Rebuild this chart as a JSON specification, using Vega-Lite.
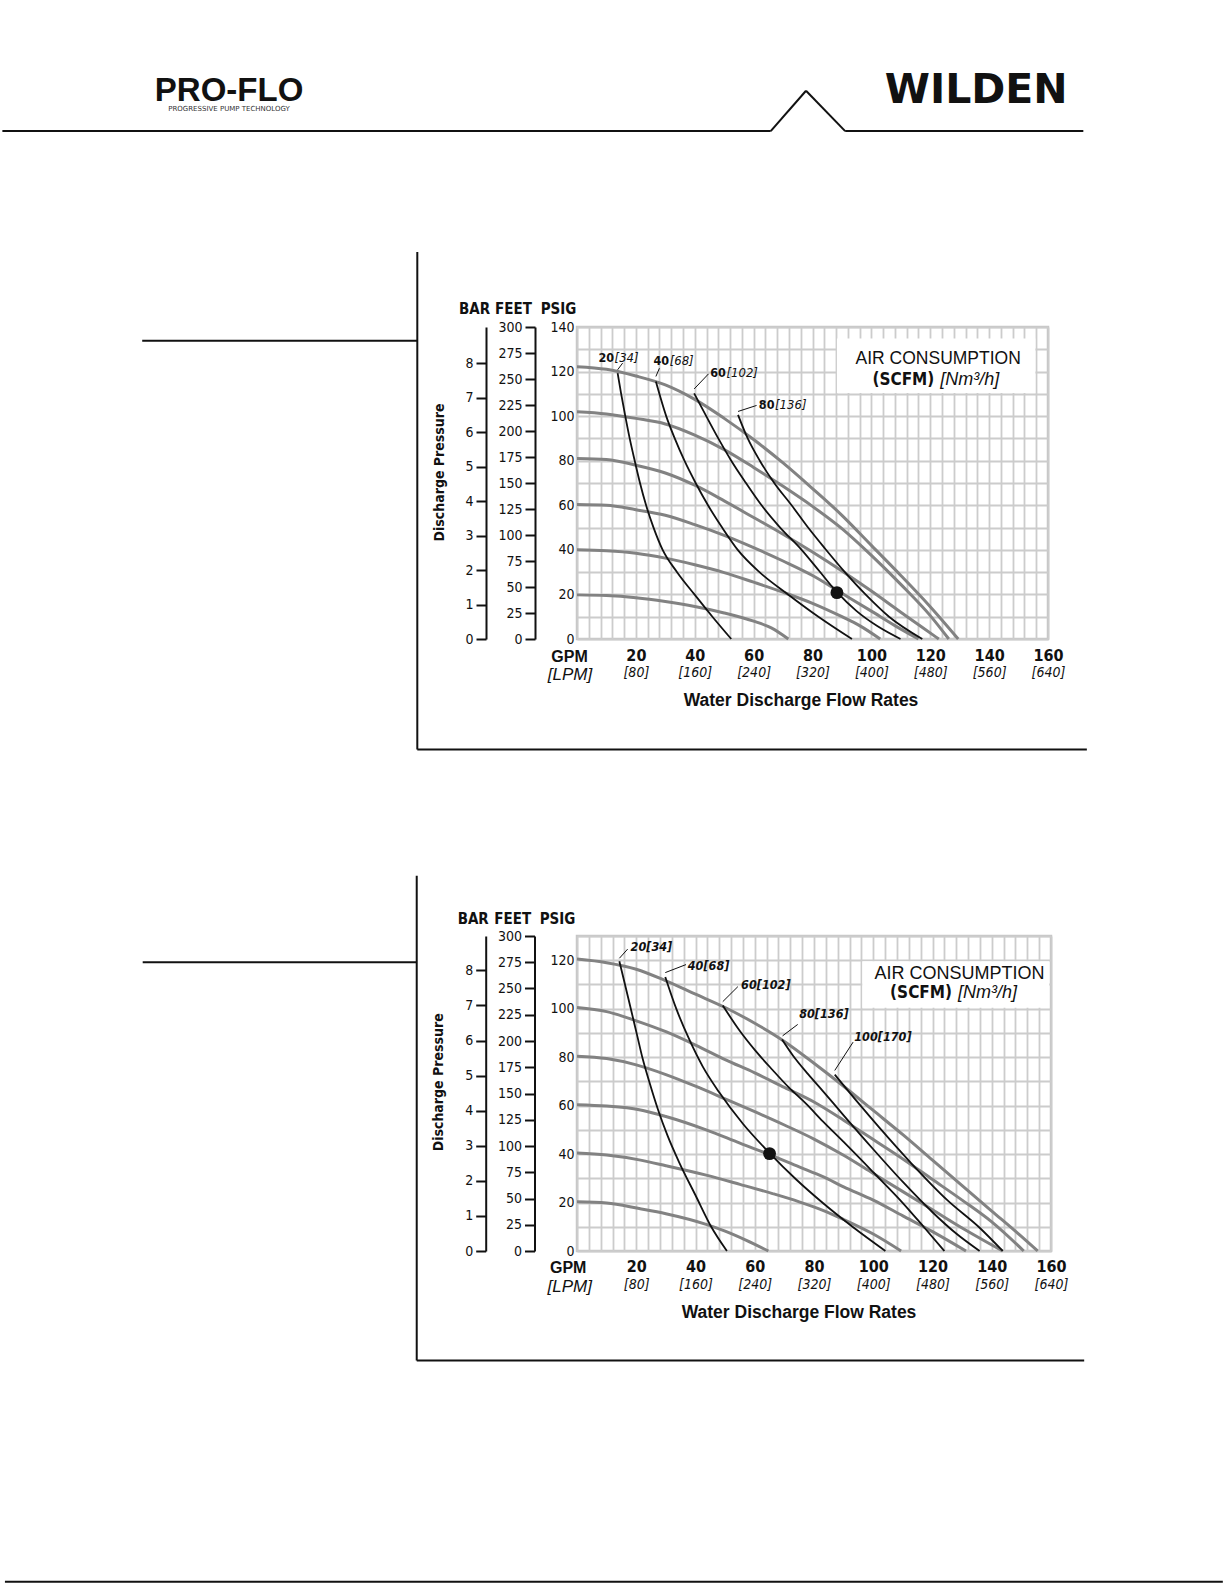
{
  "$schema": "https://vega.github.io/schema/vega-lite/v6.json",
  "padding": {"top": 68, "left": 0, "right": 0, "bottom": 0},
  "background": "white",
  "spacing": 121,
  "config": {
    "font": "Liberation Sans Narrow, Arial Narrow, DejaVu Sans Condensed, Liberation Sans, sans-serif",
    "view": {"stroke": "#c6c6c6", "strokeWidth": 2.5},
    "axis": {"labelColor": "#111111", "titleColor": "#111111", "labelFont": "Liberation Sans Narrow, Arial Narrow, DejaVu Sans Condensed, Liberation Sans, sans-serif", "titleFont": "Liberation Sans Narrow, Arial Narrow, DejaVu Sans Condensed, Liberation Sans, sans-serif"}
  },
  "datasets": {
    "one": [{"v": 0}],
    "curves1": [
      {"s":"p120","k":"inlet","gpm":0,"psi":122.2},{"s":"p120","k":"inlet","gpm":10,"psi":121},{"s":"p120","k":"inlet","gpm":20,"psi":118},{"s":"p120","k":"inlet","gpm":30,"psi":114},{"s":"p120","k":"inlet","gpm":40,"psi":107.5},{"s":"p120","k":"inlet","gpm":50,"psi":99},{"s":"p120","k":"inlet","gpm":60,"psi":89.5},{"s":"p120","k":"inlet","gpm":70,"psi":79},{"s":"p120","k":"inlet","gpm":80,"psi":67.5},{"s":"p120","k":"inlet","gpm":90,"psi":55.5},{"s":"p120","k":"inlet","gpm":100,"psi":42},{"s":"p120","k":"inlet","gpm":110,"psi":28.5},{"s":"p120","k":"inlet","gpm":120,"psi":14.5},{"s":"p120","k":"inlet","gpm":129.5,"psi":0},
      {"s":"p100","k":"inlet","gpm":0,"psi":102},{"s":"p100","k":"inlet","gpm":10,"psi":101},{"s":"p100","k":"inlet","gpm":20,"psi":99},{"s":"p100","k":"inlet","gpm":30,"psi":96.5},{"s":"p100","k":"inlet","gpm":40,"psi":91.5},{"s":"p100","k":"inlet","gpm":50,"psi":85},{"s":"p100","k":"inlet","gpm":60,"psi":77},{"s":"p100","k":"inlet","gpm":70,"psi":68.5},{"s":"p100","k":"inlet","gpm":80,"psi":59.5},{"s":"p100","k":"inlet","gpm":90,"psi":49.5},{"s":"p100","k":"inlet","gpm":100,"psi":37.5},{"s":"p100","k":"inlet","gpm":110,"psi":24.5},{"s":"p100","k":"inlet","gpm":120,"psi":10.5},{"s":"p100","k":"inlet","gpm":126.3,"psi":0},
      {"s":"p80","k":"inlet","gpm":0,"psi":81},{"s":"p80","k":"inlet","gpm":10,"psi":80.5},{"s":"p80","k":"inlet","gpm":20,"psi":78},{"s":"p80","k":"inlet","gpm":30,"psi":74.5},{"s":"p80","k":"inlet","gpm":40,"psi":69},{"s":"p80","k":"inlet","gpm":50,"psi":62},{"s":"p80","k":"inlet","gpm":60,"psi":54.5},{"s":"p80","k":"inlet","gpm":70,"psi":47},{"s":"p80","k":"inlet","gpm":80,"psi":39},{"s":"p80","k":"inlet","gpm":90,"psi":30.5},{"s":"p80","k":"inlet","gpm":100,"psi":21.5},{"s":"p80","k":"inlet","gpm":110,"psi":12},{"s":"p80","k":"inlet","gpm":117,"psi":5.5},{"s":"p80","k":"inlet","gpm":122.9,"psi":0},
      {"s":"p60","k":"inlet","gpm":0,"psi":60.3},{"s":"p60","k":"inlet","gpm":10,"psi":60},{"s":"p60","k":"inlet","gpm":20,"psi":58},{"s":"p60","k":"inlet","gpm":30,"psi":55.5},{"s":"p60","k":"inlet","gpm":40,"psi":51.3},{"s":"p60","k":"inlet","gpm":50,"psi":46.5},{"s":"p60","k":"inlet","gpm":60,"psi":41},{"s":"p60","k":"inlet","gpm":70,"psi":35},{"s":"p60","k":"inlet","gpm":80,"psi":28.5},{"s":"p60","k":"inlet","gpm":90,"psi":20.5},{"s":"p60","k":"inlet","gpm":100,"psi":12.5},{"s":"p60","k":"inlet","gpm":108,"psi":6},{"s":"p60","k":"inlet","gpm":116,"psi":0},
      {"s":"p40","k":"inlet","gpm":0,"psi":40},{"s":"p40","k":"inlet","gpm":10,"psi":39.6},{"s":"p40","k":"inlet","gpm":20,"psi":38.5},{"s":"p40","k":"inlet","gpm":30,"psi":36.3},{"s":"p40","k":"inlet","gpm":40,"psi":33.3},{"s":"p40","k":"inlet","gpm":50,"psi":29.8},{"s":"p40","k":"inlet","gpm":60,"psi":25.5},{"s":"p40","k":"inlet","gpm":70,"psi":21},{"s":"p40","k":"inlet","gpm":80,"psi":16},{"s":"p40","k":"inlet","gpm":90,"psi":10},{"s":"p40","k":"inlet","gpm":96,"psi":6},{"s":"p40","k":"inlet","gpm":103,"psi":0},
      {"s":"p20","k":"inlet","gpm":0,"psi":19.8},{"s":"p20","k":"inlet","gpm":10,"psi":19.5},{"s":"p20","k":"inlet","gpm":20,"psi":18.5},{"s":"p20","k":"inlet","gpm":30,"psi":16.8},{"s":"p20","k":"inlet","gpm":40,"psi":14.6},{"s":"p20","k":"inlet","gpm":50,"psi":11.7},{"s":"p20","k":"inlet","gpm":60,"psi":8},{"s":"p20","k":"inlet","gpm":66,"psi":5},{"s":"p20","k":"inlet","gpm":71.8,"psi":0},
      {"s":"a20","k":"air","gpm":13.8,"psi":119.3},{"s":"a20","k":"air","gpm":15,"psi":110},{"s":"a20","k":"air","gpm":16.4,"psi":100},{"s":"a20","k":"air","gpm":17.9,"psi":90},{"s":"a20","k":"air","gpm":19.6,"psi":80},{"s":"a20","k":"air","gpm":21.4,"psi":70},{"s":"a20","k":"air","gpm":23.4,"psi":60.3},{"s":"a20","k":"air","gpm":26,"psi":50},{"s":"a20","k":"air","gpm":29.1,"psi":40},{"s":"a20","k":"air","gpm":34,"psi":30},{"s":"a20","k":"air","gpm":39.9,"psi":20},{"s":"a20","k":"air","gpm":46,"psi":10},{"s":"a20","k":"air","gpm":52.4,"psi":0},
      {"s":"a40","k":"air","gpm":26.8,"psi":115.5},{"s":"a40","k":"air","gpm":30.3,"psi":100},{"s":"a40","k":"air","gpm":33.2,"psi":90},{"s":"a40","k":"air","gpm":36.5,"psi":80},{"s":"a40","k":"air","gpm":40.3,"psi":70},{"s":"a40","k":"air","gpm":44.5,"psi":60},{"s":"a40","k":"air","gpm":49.3,"psi":50},{"s":"a40","k":"air","gpm":54.6,"psi":40},{"s":"a40","k":"air","gpm":62,"psi":30},{"s":"a40","k":"air","gpm":71.7,"psi":20},{"s":"a40","k":"air","gpm":82,"psi":10},{"s":"a40","k":"air","gpm":93.4,"psi":0},
      {"s":"a60","k":"air","gpm":39.8,"psi":110.2},{"s":"a60","k":"air","gpm":43.9,"psi":100},{"s":"a60","k":"air","gpm":48,"psi":90},{"s":"a60","k":"air","gpm":52.4,"psi":80},{"s":"a60","k":"air","gpm":57.4,"psi":70},{"s":"a60","k":"air","gpm":62.7,"psi":60},{"s":"a60","k":"air","gpm":69,"psi":50},{"s":"a60","k":"air","gpm":76.3,"psi":40},{"s":"a60","k":"air","gpm":82.3,"psi":30.5},{"s":"a60","k":"air","gpm":88.3,"psi":21},{"s":"a60","k":"air","gpm":95,"psi":12.5},{"s":"a60","k":"air","gpm":102,"psi":5.8},{"s":"a60","k":"air","gpm":109.9,"psi":0},
      {"s":"a80","k":"air","gpm":54.7,"psi":100.6},{"s":"a80","k":"air","gpm":58,"psi":90},{"s":"a80","k":"air","gpm":62.1,"psi":80},{"s":"a80","k":"air","gpm":67,"psi":70},{"s":"a80","k":"air","gpm":72.9,"psi":60},{"s":"a80","k":"air","gpm":78.5,"psi":50},{"s":"a80","k":"air","gpm":84.3,"psi":40.5},{"s":"a80","k":"air","gpm":91,"psi":30},{"s":"a80","k":"air","gpm":98,"psi":20},{"s":"a80","k":"air","gpm":106,"psi":10},{"s":"a80","k":"air","gpm":117.3,"psi":0}
    ],
    "curves2": [
      {"s":"p120","k":"inlet","gpm":0,"psi":120.5},{"s":"p120","k":"inlet","gpm":10,"psi":119},{"s":"p120","k":"inlet","gpm":20,"psi":116.3},{"s":"p120","k":"inlet","gpm":30,"psi":111.5},{"s":"p120","k":"inlet","gpm":40,"psi":106},{"s":"p120","k":"inlet","gpm":50,"psi":100.5},{"s":"p120","k":"inlet","gpm":60,"psi":94},{"s":"p120","k":"inlet","gpm":70,"psi":86.5},{"s":"p120","k":"inlet","gpm":80,"psi":77.5},{"s":"p120","k":"inlet","gpm":90,"psi":68},{"s":"p120","k":"inlet","gpm":100,"psi":58},{"s":"p120","k":"inlet","gpm":110,"psi":48},{"s":"p120","k":"inlet","gpm":120,"psi":37.5},{"s":"p120","k":"inlet","gpm":130,"psi":27},{"s":"p120","k":"inlet","gpm":140,"psi":16.5},{"s":"p120","k":"inlet","gpm":150,"psi":6},{"s":"p120","k":"inlet","gpm":155.5,"psi":0},
      {"s":"p100","k":"inlet","gpm":0,"psi":100.5},{"s":"p100","k":"inlet","gpm":10,"psi":98.8},{"s":"p100","k":"inlet","gpm":20,"psi":95},{"s":"p100","k":"inlet","gpm":30,"psi":90.5},{"s":"p100","k":"inlet","gpm":40,"psi":85},{"s":"p100","k":"inlet","gpm":50,"psi":79},{"s":"p100","k":"inlet","gpm":60,"psi":73.5},{"s":"p100","k":"inlet","gpm":70,"psi":67.5},{"s":"p100","k":"inlet","gpm":80,"psi":61.5},{"s":"p100","k":"inlet","gpm":90,"psi":54},{"s":"p100","k":"inlet","gpm":100,"psi":46},{"s":"p100","k":"inlet","gpm":110,"psi":38},{"s":"p100","k":"inlet","gpm":120,"psi":29.5},{"s":"p100","k":"inlet","gpm":130,"psi":21},{"s":"p100","k":"inlet","gpm":140,"psi":12},{"s":"p100","k":"inlet","gpm":150.8,"psi":0},
      {"s":"p80","k":"inlet","gpm":0,"psi":80.4},{"s":"p80","k":"inlet","gpm":10,"psi":79.4},{"s":"p80","k":"inlet","gpm":20,"psi":76.8},{"s":"p80","k":"inlet","gpm":30,"psi":72.8},{"s":"p80","k":"inlet","gpm":40,"psi":68},{"s":"p80","k":"inlet","gpm":50,"psi":62.8},{"s":"p80","k":"inlet","gpm":60,"psi":57.5},{"s":"p80","k":"inlet","gpm":70,"psi":52},{"s":"p80","k":"inlet","gpm":80,"psi":46.2},{"s":"p80","k":"inlet","gpm":90,"psi":39.5},{"s":"p80","k":"inlet","gpm":100,"psi":32},{"s":"p80","k":"inlet","gpm":110,"psi":24.5},{"s":"p80","k":"inlet","gpm":120,"psi":17},{"s":"p80","k":"inlet","gpm":130,"psi":9.5},{"s":"p80","k":"inlet","gpm":143.7,"psi":0},
      {"s":"p60","k":"inlet","gpm":0,"psi":60.4},{"s":"p60","k":"inlet","gpm":10,"psi":59.8},{"s":"p60","k":"inlet","gpm":21,"psi":58.3},{"s":"p60","k":"inlet","gpm":30,"psi":55.5},{"s":"p60","k":"inlet","gpm":43.6,"psi":50},{"s":"p60","k":"inlet","gpm":55,"psi":44.5},{"s":"p60","k":"inlet","gpm":65,"psi":39.8},{"s":"p60","k":"inlet","gpm":75,"psi":34.7},{"s":"p60","k":"inlet","gpm":83,"psi":30.7},{"s":"p60","k":"inlet","gpm":90,"psi":26.5},{"s":"p60","k":"inlet","gpm":100,"psi":21},{"s":"p60","k":"inlet","gpm":110,"psi":14.5},{"s":"p60","k":"inlet","gpm":120,"psi":8},{"s":"p60","k":"inlet","gpm":131.3,"psi":0},
      {"s":"p40","k":"inlet","gpm":0,"psi":40.4},{"s":"p40","k":"inlet","gpm":10,"psi":39.6},{"s":"p40","k":"inlet","gpm":21,"psi":37.6},{"s":"p40","k":"inlet","gpm":30,"psi":35.2},{"s":"p40","k":"inlet","gpm":43.6,"psi":31.3},{"s":"p40","k":"inlet","gpm":55,"psi":27.5},{"s":"p40","k":"inlet","gpm":66,"psi":23.7},{"s":"p40","k":"inlet","gpm":75,"psi":20.3},{"s":"p40","k":"inlet","gpm":83,"psi":16.8},{"s":"p40","k":"inlet","gpm":90,"psi":13},{"s":"p40","k":"inlet","gpm":100,"psi":7},{"s":"p40","k":"inlet","gpm":109.4,"psi":0},
      {"s":"p20","k":"inlet","gpm":0,"psi":20.3},{"s":"p20","k":"inlet","gpm":10,"psi":19.8},{"s":"p20","k":"inlet","gpm":21,"psi":17.5},{"s":"p20","k":"inlet","gpm":30,"psi":15.4},{"s":"p20","k":"inlet","gpm":43.6,"psi":11},{"s":"p20","k":"inlet","gpm":50,"psi":8.2},{"s":"p20","k":"inlet","gpm":57,"psi":4.5},{"s":"p20","k":"inlet","gpm":64.6,"psi":0},
      {"s":"a20","k":"air","gpm":14.3,"psi":119.6},{"s":"a20","k":"air","gpm":16.2,"psi":110},{"s":"a20","k":"air","gpm":18.2,"psi":99.8},{"s":"a20","k":"air","gpm":20.2,"psi":89.5},{"s":"a20","k":"air","gpm":22.2,"psi":79.2},{"s":"a20","k":"air","gpm":24.6,"psi":69},{"s":"a20","k":"air","gpm":27.3,"psi":58.5},{"s":"a20","k":"air","gpm":30.6,"psi":47.5},{"s":"a20","k":"air","gpm":34.6,"psi":36.3},{"s":"a20","k":"air","gpm":40,"psi":23},{"s":"a20","k":"air","gpm":45.3,"psi":10},{"s":"a20","k":"air","gpm":50.6,"psi":0},
      {"s":"a40","k":"air","gpm":29.8,"psi":113.1},{"s":"a40","k":"air","gpm":33.5,"psi":100},{"s":"a40","k":"air","gpm":37.9,"psi":87.3},{"s":"a40","k":"air","gpm":42.5,"psi":76},{"s":"a40","k":"air","gpm":48,"psi":65.5},{"s":"a40","k":"air","gpm":56,"psi":52.5},{"s":"a40","k":"air","gpm":65,"psi":40.4},{"s":"a40","k":"air","gpm":74,"psi":29.5},{"s":"a40","k":"air","gpm":83,"psi":19.8},{"s":"a40","k":"air","gpm":93,"psi":10},{"s":"a40","k":"air","gpm":104.1,"psi":0},
      {"s":"a60","k":"air","gpm":49.2,"psi":101.3},{"s":"a60","k":"air","gpm":54.8,"psi":91.1},{"s":"a60","k":"air","gpm":60,"psi":83},{"s":"a60","k":"air","gpm":66.1,"psi":74.6},{"s":"a60","k":"air","gpm":71.5,"psi":67.5},{"s":"a60","k":"air","gpm":77.3,"psi":60.8},{"s":"a60","k":"air","gpm":83,"psi":53.5},{"s":"a60","k":"air","gpm":90,"psi":45},{"s":"a60","k":"air","gpm":100,"psi":32.5},{"s":"a60","k":"air","gpm":110,"psi":19.8},{"s":"a60","k":"air","gpm":117,"psi":10},{"s":"a60","k":"air","gpm":124,"psi":0},
      {"s":"a80","k":"air","gpm":69.2,"psi":87.3},{"s":"a80","k":"air","gpm":73,"psi":80.5},{"s":"a80","k":"air","gpm":78,"psi":73},{"s":"a80","k":"air","gpm":83,"psi":66},{"s":"a80","k":"air","gpm":90,"psi":56},{"s":"a80","k":"air","gpm":100,"psi":42},{"s":"a80","k":"air","gpm":110,"psi":28.5},{"s":"a80","k":"air","gpm":120,"psi":16},{"s":"a80","k":"air","gpm":128,"psi":7.2},{"s":"a80","k":"air","gpm":135.9,"psi":0},
      {"s":"a100","k":"air","gpm":87,"psi":72.8},{"s":"a100","k":"air","gpm":95,"psi":61},{"s":"a100","k":"air","gpm":102,"psi":51},{"s":"a100","k":"air","gpm":113,"psi":36},{"s":"a100","k":"air","gpm":125,"psi":21},{"s":"a100","k":"air","gpm":136,"psi":9.5},{"s":"a100","k":"air","gpm":143.7,"psi":0}
    ],
    "dot1": [{"gpm": 88.3, "psi": 20.8}],
    "dot2": [{"gpm": 65.0, "psi": 40.2}],
    "box1": [{"gpm": 88.3, "gpm2": 155.7, "psi": 110.4, "psi2": 134.8}],
    "box2": [{"gpm": 96.3, "gpm2": 159.4, "psi": 100.4, "psi2": 119.6}],
    "leg1a": [{"gpm": 122.7, "psi": 123.6, "t": "AIR CONSUMPTION"}],
    "leg1b": [{"gpm": 122.4, "psi": 114, "a": "(SCFM)", "b": "[Nm³/h]"}],
    "leg2a": [{"gpm": 129.1, "psi": 112.2, "t": "AIR CONSUMPTION"}],
    "leg2b": [{"gpm": 127.6, "psi": 104.6, "a": "(SCFM)", "b": "[Nm³/h]"}],
    "labels1": [
      {"n": "20", "b": "[34]", "gpm": 12.6, "psi": 124.4},
      {"n": "40", "b": "[68]", "gpm": 31.3, "psi": 122.9},
      {"n": "60", "b": "[102]", "gpm": 50.6, "psi": 117.7},
      {"n": "80", "b": "[136]", "gpm": 67.1, "psi": 103.2}
    ],
    "labels2": [
      {"t": "20[34]", "gpm": 18.1, "psi": 124},
      {"t": "40[68]", "gpm": 37.4, "psi": 116.1},
      {"t": "60[102]", "gpm": 55.4, "psi": 108.1},
      {"t": "80[136]", "gpm": 75.0, "psi": 96.3},
      {"t": "100[170]", "gpm": 93.6, "psi": 86.6}
    ],
    "leaders1": [
      {"gpm": 13.8, "psi": 120.8, "gpm2": 15.5, "psi2": 123.8},
      {"gpm": 26.8, "psi": 117.8, "gpm2": 28.0, "psi2": 121.5},
      {"gpm": 39.8, "psi": 112.2, "gpm2": 44.7, "psi2": 119.0},
      {"gpm": 54.7, "psi": 102.1, "gpm2": 61.0, "psi2": 104.8}
    ],
    "leaders2": [
      {"gpm": 14.3, "psi": 120.8, "gpm2": 17.1, "psi2": 124.6},
      {"gpm": 29.8, "psi": 114.9, "gpm2": 36.8, "psi2": 118.2},
      {"gpm": 49.2, "psi": 102.9, "gpm2": 54.3, "psi2": 109.1},
      {"gpm": 69.4, "psi": 88.8, "gpm2": 74.5, "psi2": 93.5},
      {"gpm": 87.0, "psi": 74.5, "gpm2": 93.2, "psi2": 86.2}
    ],
    "page1": [
      {"gpm": -195.2, "gpm2": 65.8, "psi": 227.9, "psi2": 227.9},
      {"gpm": 65.8, "gpm2": 77.8, "psi": 227.9, "psi2": 246.0},
      {"gpm": 77.8, "gpm2": 91.1, "psi": 246.0, "psi2": 227.9},
      {"gpm": 91.1, "gpm2": 172.0, "psi": 227.9, "psi2": 227.9},
      {"gpm": -54.25, "gpm2": -54.25, "psi": 173.7, "psi2": -49.6},
      {"gpm": -54.25, "gpm2": 173.2, "psi": -49.6, "psi2": -49.6},
      {"gpm": -147.7, "gpm2": -54.25, "psi": 133.8, "psi2": 133.8}
    ],
    "page2": [
      {"gpm": -54.1, "gpm2": -54.1, "psi": 154.9, "psi2": -45.2},
      {"gpm": -54.1, "gpm2": 171.2, "psi": -45.2, "psi2": -45.2},
      {"gpm": -146.6, "gpm2": -54.1, "psi": 119.2, "psi2": 119.2},
      {"gpm": -193.1, "gpm2": 218.0, "psi": -136.5, "psi2": -136.5}
    ],
    "brandA": [{"gpm": -118.2, "psi": 241.3, "t": "PRO-FLO"}],
    "brandB": [{"gpm": -118.2, "psi": 236.8, "t": "PROGRESSIVE PUMP TECHNOLOGY"}],
    "brandC": [{"gpm": 135.6, "psi": 240.6, "t": "WILDEN"}]
  },
  "vconcat": [
    {
      "width": 471,
      "height": 312,
      "resolve": {"scale": {"x": "independent", "y": "independent"}},
      "layer": [
        {"data": {"name": "box1"}, "mark": {"type": "rect", "fill": "white"},
         "encoding": {"x": {"field": "gpm", "type": "quantitative", "scale": {"domain": [0, 160], "nice": false, "zero": false}, "axis": null}, "x2": {"field": "gpm2"},
                      "y": {"field": "psi", "type": "quantitative", "scale": {"domain": [0, 140], "nice": false, "zero": false}, "axis": null}, "y2": {"field": "psi2"}}},
        {"data": {"name": "curves1"}, "transform": [{"filter": "datum.k === 'inlet'"}], "mark": {"type": "line", "stroke": "#828282", "strokeWidth": 3, "interpolate": "monotone"},
         "encoding": {
            "x": {"field": "gpm", "type": "quantitative", "scale": {"domain": [0, 160], "nice": false, "zero": false},
              "axis": {"orient": "bottom", "values": [0,4,8,12,16,20,24,28,32,36,40,44,48,52,56,60,64,68,72,76,80,84,88,92,96,100,104,108,112,116,120,124,128,132,136,140,144,148,152,156,160],
                "grid": true, "gridColor": "#cccccc", "gridWidth": 1.8, "ticks": false, "tickSize": 0, "domain": false,
                "labelExpr": "datum.value % 20 === 0 && datum.value > 0 ? datum.label : ''",
                "labelFontSize": 16, "labelFontWeight": "bold", "labelPadding": 8.5, "labelFlush": false, "labelOverlap": false,
                "title": "GPM", "titleFont": "Liberation Sans, Arial, sans-serif", "titleFontSize": 16, "titleFontWeight": "bold",
                "titleX": -8, "titleY": 22, "titleAlign": "center", "titleBaseline": "alphabetic", "titleAngle": 0}},
            "y": {"field": "psi", "type": "quantitative", "scale": {"domain": [0, 140], "nice": false, "zero": false},
              "axis": {"orient": "left", "values": [0,10,20,30,40,50,60,70,80,90,100,110,120,130,140],
                "grid": true, "gridColor": "#cccccc", "gridWidth": 1.8, "ticks": false, "tickSize": 0, "domain": false,
                "labelExpr": "datum.value % 20 === 0 ? datum.label : ''",
                "labelFontSize": 14, "labelPadding": 3, "labelFlush": false, "labelOverlap": false,
                "title": "PSIG", "titleFontSize": 15, "titleFontWeight": "bold", "titleAngle": 0,
                "titleX": -19, "titleY": -14, "titleAlign": "center", "titleBaseline": "alphabetic"}},
            "detail": {"field": "s"}}},
        {"data": {"name": "curves1"}, "transform": [{"filter": "datum.k === 'air'"}], "mark": {"type": "line", "stroke": "#111111", "strokeWidth": 1.8, "interpolate": "monotone"},
         "encoding": {"x": {"field": "gpm", "type": "quantitative", "scale": {"domain": [0, 160], "nice": false, "zero": false}, "axis": null},
                      "y": {"field": "psi", "type": "quantitative", "scale": {"domain": [0, 140], "nice": false, "zero": false}, "axis": null}, "detail": {"field": "s"}}},
        {"data": {"name": "dot1"}, "mark": {"type": "circle", "fill": "#111111", "opacity": 1, "size": 165},
         "encoding": {"x": {"field": "gpm", "type": "quantitative", "scale": {"domain": [0, 160], "nice": false, "zero": false}, "axis": null},
                      "y": {"field": "psi", "type": "quantitative", "scale": {"domain": [0, 140], "nice": false, "zero": false}, "axis": null}}},
        {"data": {"name": "leaders1"}, "mark": {"type": "rule", "stroke": "#111111", "strokeWidth": 1},
         "encoding": {"x": {"field": "gpm", "type": "quantitative", "scale": {"domain": [0, 160], "nice": false, "zero": false}, "axis": null}, "x2": {"field": "gpm2"},
                      "y": {"field": "psi", "type": "quantitative", "scale": {"domain": [0, 140], "nice": false, "zero": false}, "axis": null}, "y2": {"field": "psi2"}}},
        {"data": {"name": "labels1"}, "mark": {"type": "text", "align": "right", "baseline": "alphabetic", "fontWeight": "bold", "fontSize": 12.5, "fill": "#111111"},
         "encoding": {"x": {"field": "gpm", "type": "quantitative", "scale": {"domain": [0, 160], "nice": false, "zero": false}, "axis": null},
                      "y": {"field": "psi", "type": "quantitative", "scale": {"domain": [0, 140], "nice": false, "zero": false}, "axis": null}, "text": {"field": "n"}}},
        {"data": {"name": "labels1"}, "mark": {"type": "text", "align": "left", "baseline": "alphabetic", "fontStyle": "italic", "fontSize": 13, "fill": "#111111", "dx": 0.5},
         "encoding": {"x": {"field": "gpm", "type": "quantitative", "scale": {"domain": [0, 160], "nice": false, "zero": false}, "axis": null},
                      "y": {"field": "psi", "type": "quantitative", "scale": {"domain": [0, 140], "nice": false, "zero": false}, "axis": null}, "text": {"field": "b"}}},
        {"data": {"name": "leg1a"}, "mark": {"type": "text", "align": "center", "baseline": "alphabetic", "font": "Liberation Sans, Arial, sans-serif", "fontSize": 17.5, "fill": "#111111"},
         "encoding": {"x": {"field": "gpm", "type": "quantitative", "scale": {"domain": [0, 160], "nice": false, "zero": false}, "axis": null},
                      "y": {"field": "psi", "type": "quantitative", "scale": {"domain": [0, 140], "nice": false, "zero": false}, "axis": null}, "text": {"field": "t"}}},
        {"data": {"name": "leg1b"}, "mark": {"type": "text", "align": "right", "baseline": "alphabetic", "fontWeight": "bold", "fontSize": 17, "fill": "#111111", "dx": -3},
         "encoding": {"x": {"field": "gpm", "type": "quantitative", "scale": {"domain": [0, 160], "nice": false, "zero": false}, "axis": null},
                      "y": {"field": "psi", "type": "quantitative", "scale": {"domain": [0, 140], "nice": false, "zero": false}, "axis": null}, "text": {"field": "a"}}},
        {"data": {"name": "leg1b"}, "mark": {"type": "text", "align": "left", "baseline": "alphabetic", "font": "Liberation Sans, Arial, sans-serif", "fontStyle": "italic", "fontSize": 18, "fill": "#111111", "dx": 3},
         "encoding": {"x": {"field": "gpm", "type": "quantitative", "scale": {"domain": [0, 160], "nice": false, "zero": false}, "axis": null},
                      "y": {"field": "psi", "type": "quantitative", "scale": {"domain": [0, 140], "nice": false, "zero": false}, "axis": null}, "text": {"field": "b"}}},
        {"data": {"name": "page1"}, "mark": {"type": "rule", "stroke": "#111111", "strokeWidth": 2},
         "encoding": {"x": {"field": "gpm", "type": "quantitative", "scale": {"domain": [0, 160], "nice": false, "zero": false}, "axis": null}, "x2": {"field": "gpm2"},
                      "y": {"field": "psi", "type": "quantitative", "scale": {"domain": [0, 140], "nice": false, "zero": false}, "axis": null}, "y2": {"field": "psi2"}}},
        {"data": {"name": "brandA"}, "mark": {"type": "text", "align": "center", "baseline": "alphabetic", "font": "Liberation Sans, Arial, sans-serif", "fontWeight": "bold", "fontSize": 33, "fill": "#111111"},
         "encoding": {"x": {"field": "gpm", "type": "quantitative", "scale": {"domain": [0, 160], "nice": false, "zero": false}, "axis": null},
                      "y": {"field": "psi", "type": "quantitative", "scale": {"domain": [0, 140], "nice": false, "zero": false}, "axis": null}, "text": {"field": "t"}}},
        {"data": {"name": "brandB"}, "mark": {"type": "text", "align": "center", "baseline": "alphabetic", "font": "DejaVu Sans, sans-serif", "fontSize": 7, "fill": "#333333"},
         "encoding": {"x": {"field": "gpm", "type": "quantitative", "scale": {"domain": [0, 160], "nice": false, "zero": false}, "axis": null},
                      "y": {"field": "psi", "type": "quantitative", "scale": {"domain": [0, 140], "nice": false, "zero": false}, "axis": null}, "text": {"field": "t"}}},
        {"data": {"name": "brandC"}, "mark": {"type": "text", "align": "center", "baseline": "alphabetic", "font": "DejaVu Sans, sans-serif", "fontWeight": "bold", "fontSize": 41, "fill": "#111111"},
         "encoding": {"x": {"field": "gpm", "type": "quantitative", "scale": {"domain": [0, 160], "nice": false, "zero": false}, "axis": null},
                      "y": {"field": "psi", "type": "quantitative", "scale": {"domain": [0, 140], "nice": false, "zero": false}, "axis": null}, "text": {"field": "t"}}},
        {"data": {"name": "one"}, "mark": {"type": "point", "opacity": 0},
         "encoding": {
           "x": {"field": "v", "type": "quantitative", "scale": {"domain": [0, 640], "nice": false},
            "axis": {"orient": "bottom", "values": [80,160,240,320,400,480,560,640], "grid": false, "ticks": false, "tickSize": 0, "domain": false,
              "labelExpr": "'[' + datum.label + ']'", "labelFontStyle": "italic", "labelFontSize": 14, "labelPadding": 26, "labelFlush": false, "labelOverlap": false,
              "title": "[LPM]", "titleFont": "Liberation Sans, Arial, sans-serif", "titleFontSize": 17, "titleFontStyle": "italic", "titleFontWeight": "normal",
              "titleX": -7.5, "titleY": 40.5, "titleAlign": "center", "titleBaseline": "alphabetic"}},
           "y": {"field": "v", "type": "quantitative", "scale": {"domain": [0, 300], "nice": false},
            "axis": {"orient": "left", "offset": 42, "values": [0,25,50,75,100,125,150,175,200,225,250,275,300], "grid": false,
              "ticks": true, "tickSize": 10, "tickWidth": 2, "tickColor": "#111111", "domain": true, "domainWidth": 2, "domainColor": "#111111",
              "labelFontSize": 14, "labelPadding": 3, "labelFlush": false, "labelOverlap": false,
              "title": "FEET", "titleFontSize": 15, "titleFontWeight": "bold", "titleAngle": 0, "titleX": -22, "titleY": -14, "titleAlign": "center", "titleBaseline": "alphabetic"}}}},
        {"data": {"name": "one"}, "mark": {"type": "point", "opacity": 0},
         "encoding": {
           "x": {"field": "v", "type": "quantitative", "scale": {"domain": [0, 1]},
            "axis": {"orient": "bottom", "labels": false, "ticks": false, "domain": false, "grid": false,
              "title": "Water Discharge Flow Rates", "titleFont": "Liberation Sans, Arial, sans-serif", "titleFontSize": 17.5, "titleFontWeight": "bold",
              "titleX": 223.5, "titleY": 66.7, "titleAlign": "center", "titleBaseline": "alphabetic"}},
           "y": {"field": "v", "type": "quantitative", "scale": {"domain": [0, 9.05], "nice": false},
            "axis": {"orient": "left", "offset": 91, "values": [0,1,2,3,4,5,6,7,8], "grid": false,
              "ticks": true, "tickSize": 10, "tickWidth": 2, "tickColor": "#111111", "domain": true, "domainWidth": 2, "domainColor": "#111111",
              "labelFontSize": 14, "labelPadding": 3, "labelFlush": false, "labelOverlap": false,
              "title": "BAR", "titleFontSize": 15, "titleFontWeight": "bold", "titleAngle": 0, "titleX": -12, "titleY": -14, "titleAlign": "center", "titleBaseline": "alphabetic"}}}},
        {"data": {"name": "one"}, "mark": {"type": "point", "opacity": 0},
         "encoding": {
           "x": {"field": "v", "type": "quantitative", "scale": {"domain": [0, 1]}, "axis": null},
           "y": {"field": "v", "type": "quantitative", "scale": {"domain": [0, 1]},
            "axis": {"orient": "left", "offset": 0, "labels": false, "ticks": false, "domain": false, "grid": false,
              "title": "Discharge Pressure", "titleFontSize": 14, "titleFontWeight": "bold", "titleAngle": 270, "titleX": -138, "titleY": 145, "titleAlign": "center", "titleBaseline": "middle"}}}}
      ]
    },
    {
      "width": 474,
      "height": 315,
      "resolve": {"scale": {"x": "independent", "y": "independent"}},
      "layer": [
        {"data": {"name": "box2"}, "mark": {"type": "rect", "fill": "white"},
         "encoding": {"x": {"field": "gpm", "type": "quantitative", "scale": {"domain": [0, 160], "nice": false, "zero": false}, "axis": null}, "x2": {"field": "gpm2"},
                      "y": {"field": "psi", "type": "quantitative", "scale": {"domain": [0, 130], "nice": false, "zero": false}, "axis": null}, "y2": {"field": "psi2"}}},
        {"data": {"name": "curves2"}, "transform": [{"filter": "datum.k === 'inlet'"}], "mark": {"type": "line", "stroke": "#828282", "strokeWidth": 3, "interpolate": "monotone"},
         "encoding": {
            "x": {"field": "gpm", "type": "quantitative", "scale": {"domain": [0, 160], "nice": false, "zero": false},
              "axis": {"orient": "bottom", "values": [0,4,8,12,16,20,24,28,32,36,40,44,48,52,56,60,64,68,72,76,80,84,88,92,96,100,104,108,112,116,120,124,128,132,136,140,144,148,152,156,160],
                "grid": true, "gridColor": "#cccccc", "gridWidth": 1.8, "ticks": false, "tickSize": 0, "domain": false,
                "labelExpr": "datum.value % 20 === 0 && datum.value > 0 ? datum.label : ''",
                "labelFontSize": 16, "labelFontWeight": "bold", "labelPadding": 7, "labelFlush": false, "labelOverlap": false,
                "title": "GPM", "titleFont": "Liberation Sans, Arial, sans-serif", "titleFontSize": 16, "titleFontWeight": "bold",
                "titleX": -9.3, "titleY": 21.5, "titleAlign": "center", "titleBaseline": "alphabetic", "titleAngle": 0}},
            "y": {"field": "psi", "type": "quantitative", "scale": {"domain": [0, 130], "nice": false, "zero": false},
              "axis": {"orient": "left", "values": [0,10,20,30,40,50,60,70,80,90,100,110,120,130],
                "grid": true, "gridColor": "#cccccc", "gridWidth": 1.8, "ticks": false, "tickSize": 0, "domain": false,
                "labelExpr": "datum.value % 20 === 0 ? datum.label : ''",
                "labelFontSize": 14, "labelPadding": 3, "labelFlush": false, "labelOverlap": false,
                "title": "PSIG", "titleFontSize": 15, "titleFontWeight": "bold", "titleAngle": 0,
                "titleX": -20, "titleY": -13, "titleAlign": "center", "titleBaseline": "alphabetic"}},
            "detail": {"field": "s"}}},
        {"data": {"name": "curves2"}, "transform": [{"filter": "datum.k === 'air'"}], "mark": {"type": "line", "stroke": "#111111", "strokeWidth": 1.8, "interpolate": "monotone"},
         "encoding": {"x": {"field": "gpm", "type": "quantitative", "scale": {"domain": [0, 160], "nice": false, "zero": false}, "axis": null},
                      "y": {"field": "psi", "type": "quantitative", "scale": {"domain": [0, 130], "nice": false, "zero": false}, "axis": null}, "detail": {"field": "s"}}},
        {"data": {"name": "dot2"}, "mark": {"type": "circle", "fill": "#111111", "opacity": 1, "size": 165},
         "encoding": {"x": {"field": "gpm", "type": "quantitative", "scale": {"domain": [0, 160], "nice": false, "zero": false}, "axis": null},
                      "y": {"field": "psi", "type": "quantitative", "scale": {"domain": [0, 130], "nice": false, "zero": false}, "axis": null}}},
        {"data": {"name": "leaders2"}, "mark": {"type": "rule", "stroke": "#111111", "strokeWidth": 1},
         "encoding": {"x": {"field": "gpm", "type": "quantitative", "scale": {"domain": [0, 160], "nice": false, "zero": false}, "axis": null}, "x2": {"field": "gpm2"},
                      "y": {"field": "psi", "type": "quantitative", "scale": {"domain": [0, 130], "nice": false, "zero": false}, "axis": null}, "y2": {"field": "psi2"}}},
        {"data": {"name": "labels2"}, "mark": {"type": "text", "align": "left", "baseline": "alphabetic", "fontWeight": "bold", "fontStyle": "italic", "fontSize": 12.5, "fill": "#111111"},
         "encoding": {"x": {"field": "gpm", "type": "quantitative", "scale": {"domain": [0, 160], "nice": false, "zero": false}, "axis": null},
                      "y": {"field": "psi", "type": "quantitative", "scale": {"domain": [0, 130], "nice": false, "zero": false}, "axis": null}, "text": {"field": "t"}}},
        {"data": {"name": "leg2a"}, "mark": {"type": "text", "align": "center", "baseline": "alphabetic", "font": "Liberation Sans, Arial, sans-serif", "fontSize": 18, "fill": "#111111"},
         "encoding": {"x": {"field": "gpm", "type": "quantitative", "scale": {"domain": [0, 160], "nice": false, "zero": false}, "axis": null},
                      "y": {"field": "psi", "type": "quantitative", "scale": {"domain": [0, 130], "nice": false, "zero": false}, "axis": null}, "text": {"field": "t"}}},
        {"data": {"name": "leg2b"}, "mark": {"type": "text", "align": "right", "baseline": "alphabetic", "fontWeight": "bold", "fontSize": 17, "fill": "#111111", "dx": -3},
         "encoding": {"x": {"field": "gpm", "type": "quantitative", "scale": {"domain": [0, 160], "nice": false, "zero": false}, "axis": null},
                      "y": {"field": "psi", "type": "quantitative", "scale": {"domain": [0, 130], "nice": false, "zero": false}, "axis": null}, "text": {"field": "a"}}},
        {"data": {"name": "leg2b"}, "mark": {"type": "text", "align": "left", "baseline": "alphabetic", "font": "Liberation Sans, Arial, sans-serif", "fontStyle": "italic", "fontSize": 18, "fill": "#111111", "dx": 3},
         "encoding": {"x": {"field": "gpm", "type": "quantitative", "scale": {"domain": [0, 160], "nice": false, "zero": false}, "axis": null},
                      "y": {"field": "psi", "type": "quantitative", "scale": {"domain": [0, 130], "nice": false, "zero": false}, "axis": null}, "text": {"field": "b"}}},
        {"data": {"name": "page2"}, "mark": {"type": "rule", "stroke": "#111111", "strokeWidth": 2},
         "encoding": {"x": {"field": "gpm", "type": "quantitative", "scale": {"domain": [0, 160], "nice": false, "zero": false}, "axis": null}, "x2": {"field": "gpm2"},
                      "y": {"field": "psi", "type": "quantitative", "scale": {"domain": [0, 130], "nice": false, "zero": false}, "axis": null}, "y2": {"field": "psi2"}}},
        {"data": {"name": "one"}, "mark": {"type": "point", "opacity": 0},
         "encoding": {
           "x": {"field": "v", "type": "quantitative", "scale": {"domain": [0, 640], "nice": false},
            "axis": {"orient": "bottom", "values": [80,160,240,320,400,480,560,640], "grid": false, "ticks": false, "tickSize": 0, "domain": false,
              "labelExpr": "'[' + datum.label + ']'", "labelFontStyle": "italic", "labelFontSize": 14, "labelPadding": 26.5, "labelFlush": false, "labelOverlap": false,
              "title": "[LPM]", "titleFont": "Liberation Sans, Arial, sans-serif", "titleFontSize": 17, "titleFontStyle": "italic", "titleFontWeight": "normal",
              "titleX": -7.8, "titleY": 40, "titleAlign": "center", "titleBaseline": "alphabetic"}},
           "y": {"field": "v", "type": "quantitative", "scale": {"domain": [0, 300], "nice": false},
            "axis": {"orient": "left", "offset": 42.5, "values": [0,25,50,75,100,125,150,175,200,225,250,275,300], "grid": false,
              "ticks": true, "tickSize": 10, "tickWidth": 2, "tickColor": "#111111", "domain": true, "domainWidth": 2, "domainColor": "#111111",
              "labelFontSize": 14, "labelPadding": 3, "labelFlush": false, "labelOverlap": false,
              "title": "FEET", "titleFontSize": 15, "titleFontWeight": "bold", "titleAngle": 0, "titleX": -22.3, "titleY": -13, "titleAlign": "center", "titleBaseline": "alphabetic"}}}},
        {"data": {"name": "one"}, "mark": {"type": "point", "opacity": 0},
         "encoding": {
           "x": {"field": "v", "type": "quantitative", "scale": {"domain": [0, 1]},
            "axis": {"orient": "bottom", "labels": false, "ticks": false, "domain": false, "grid": false,
              "title": "Water Discharge Flow Rates", "titleFont": "Liberation Sans, Arial, sans-serif", "titleFontSize": 17.5, "titleFontWeight": "bold",
              "titleX": 221.5, "titleY": 66.8, "titleAlign": "center", "titleBaseline": "alphabetic"}},
           "y": {"field": "v", "type": "quantitative", "scale": {"domain": [0, 8.98], "nice": false},
            "axis": {"orient": "left", "offset": 91.3, "values": [0,1,2,3,4,5,6,7,8], "grid": false,
              "ticks": true, "tickSize": 10, "tickWidth": 2, "tickColor": "#111111", "domain": true, "domainWidth": 2, "domainColor": "#111111",
              "labelFontSize": 14, "labelPadding": 3, "labelFlush": false, "labelOverlap": false,
              "title": "BAR", "titleFontSize": 15, "titleFontWeight": "bold", "titleAngle": 0, "titleX": -13, "titleY": -13, "titleAlign": "center", "titleBaseline": "alphabetic"}}}},
        {"data": {"name": "one"}, "mark": {"type": "point", "opacity": 0},
         "encoding": {
           "x": {"field": "v", "type": "quantitative", "scale": {"domain": [0, 1]}, "axis": null},
           "y": {"field": "v", "type": "quantitative", "scale": {"domain": [0, 1]},
            "axis": {"orient": "left", "offset": 0, "labels": false, "ticks": false, "domain": false, "grid": false,
              "title": "Discharge Pressure", "titleFontSize": 14, "titleFontWeight": "bold", "titleAngle": 270, "titleX": -139, "titleY": 145.8, "titleAlign": "center", "titleBaseline": "middle"}}}}
      ]
    }
  ]
}
